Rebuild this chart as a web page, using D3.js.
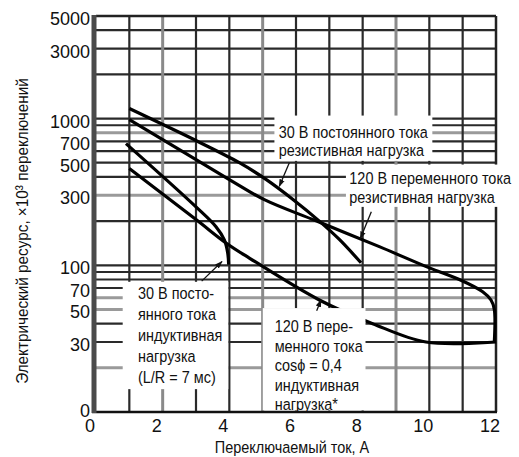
<!DOCTYPE html>
<html>
<head>
<meta charset="utf-8">
<script src="https://cdn.jsdelivr.net/npm/d3@7"></script>
<style>
  body { margin: 0; background: #fff; }
  svg text { fill: #111; }
  .tick-label { font-family: "Liberation Sans", Arial, sans-serif; font-size: 18px; }
  .cond { font-family: "Liberation Sans", Arial, sans-serif; font-size: 17px; }
</style>
</head>
<body>
<div id="chart"></div>
<script>
// axis ticks (bottom decade shown as "0" in the original)
const xTicks = [0, 2, 4, 6, 8, 10, 12];
const yTicks = [10, 30, 50, 70, 100, 300, 500, 700, 1000, 3000, 5000];
const yTickLabels = ["0", "30", "50", "70", "100", "300", "500", "700", "1000", "3000", "5000"];

// grid lines
const gridX = [1, 2, 3, 4, 5, 6, 7, 8, 9, 10, 11];
const gridY = [20, 30, 40, 50, 60, 70, 80, 90, 100, 200, 300, 400, 500, 600, 700, 800, 900, 1000, 2000, 3000, 4000];
const greyX = [2, 5, 9];
const greyY = [20, 50, 60, 300, 800];

// curves: current (A) and life (x10^3 operations)
const r30A = [1.0, 3.1, 4.3, 5.1, 5.9, 6.7, 7.3, 7.95];
const r30V = [1170, 690, 500, 385, 282, 200, 150, 104];
const r120A = [1.0, 4.0, 5.05, 6.6, 8.5, 10.0, 10.9, 11.6, 11.85, 11.95, 11.95];
const r120V = [985, 384, 280, 201, 134, 96, 80, 66, 58, 50, 30];
const i30A = [0.9, 3.0, 3.6, 3.85, 3.95, 3.98];
const i30V = [675, 250, 183, 149, 122, 101];
const i120A = [1.0, 3.0, 3.9, 4.6, 6.7, 8.3, 9.9, 12];
const i120V = [456, 205, 142, 112, 58, 40, 30, 30];

// annotations
const labelLines = [
    ["30 В постоянного тока", "резистивная нагрузка"],
    ["120 В переменного тока", "резистивная нагрузка"],
    ["30 В посто-", "янного тока", "индуктивная", "нагрузка", "(L/R = 7 мс)"],
    ["120 В пере-", "менного тока", "cosϕ = 0,4", "индуктивная", "нагрузка*"]
];
const labelA = [5.48, 7.6, 1.26, 5.36];
const labelV = [741, 360, 59, 35];
const pointerFromA = [5.8, 8.26, 3.17, 6.62];
const pointerFromV = [500, 232, 78, 49];
const pointerToA = [5.5, 7.93, 3.78, 6.75];
const pointerToV = [345, 152, 106, 58];

const width = 519, height = 457;
const margin = {top: 16, right: 22, bottom: 45, left: 96};
const squeeze = 0.85; // condensed look for the annotation font

const svg = d3.select("#chart").append("svg")
    .attr("width", width).attr("height", height);

svg.append("defs").append("marker")
    .attr("id", "arrow")
    .attr("viewBox", "0 0 10 10")
    .attr("refX", 9).attr("refY", 5)
    .attr("markerWidth", 6).attr("markerHeight", 6)
    .attr("orient", "auto")
    .append("path").attr("d", "M0,1.5L10,5L0,8.5Z").attr("fill", "#111");

const x = d3.scaleLinear().domain([0, 12]).range([margin.left, width - margin.right - 1]);
const y = d3.scaleLog().domain([10, 5000]).range([height - margin.bottom, margin.top]);

// grid
svg.append("g").selectAll("line")
    .data(gridY).enter().append("line")
    .attr("x1", x(0)).attr("x2", x(12))
    .attr("y1", d => y(d)).attr("y2", d => y(d))
    .attr("stroke", d => greyY.includes(d) ? "#9a9a9a" : "#2a2a2a")
    .attr("stroke-width", d => greyY.includes(d) ? 3 : 2.2);

svg.append("g").selectAll("line")
    .data(gridX).enter().append("line")
    .attr("x1", d => x(d)).attr("x2", d => x(d))
    .attr("y1", y(10)).attr("y2", y(5000))
    .attr("stroke", d => greyX.includes(d) ? "#8a8a8a" : "#2a2a2a")
    .attr("stroke-width", d => greyX.includes(d) ? 3 : 2.2);

// top and right frame
svg.append("line").attr("x1", x(0)).attr("x2", x(12)).attr("y1", y(5000)).attr("y2", y(5000))
    .attr("stroke", "#222").attr("stroke-width", 2.5);
svg.append("line").attr("x1", x(12)).attr("x2", x(12)).attr("y1", y(5000)).attr("y2", y(10))
    .attr("stroke", "#222").attr("stroke-width", 2.5);

// curves
const line = d3.line()
    .x(d => x(d[0])).y(d => y(d[1]))
    .curve(d3.curveCatmullRom.alpha(0.5));

const curves = [
    d3.zip(r30A, r30V),
    d3.zip(r120A, r120V),
    d3.zip(i30A, i30V),
    d3.zip(i120A, i120V)
];
svg.append("g").selectAll("path")
    .data(curves).enter().append("path")
    .attr("d", line)
    .attr("fill", "none")
    .attr("stroke", "#000")
    .attr("stroke-width", 3.2)
    .attr("stroke-linejoin", "round");

// annotation labels with white backgrounds (pads: left, top, right, bottom)
const lineStep = [18, 19, 21, 19.5];
const pads = [[5, 7, 5, 2], [4, 4, 3, 1], [18, 2, 7, 3], [14, 9, 3, 0]];
labelLines.forEach((lines, i) => {
    const g = svg.append("g")
        .attr("transform", "translate(" + x(labelA[i]) + "," + y(labelV[i]) + ") scale(" + squeeze + ",1)");
    const bg = g.append("rect").attr("fill", "#fff");
    const t = g.append("text").attr("class", "cond");
    lines.forEach((s, j) => {
        t.append("tspan").attr("x", 0).attr("y", j * lineStep[i]).text(s);
    });
    const b = t.node().getBBox();
    const p = pads[i];
    const bottom = Math.min(b.y + b.height + p[3], y(10) - y(labelV[i]) - 1.5);
    bg.attr("x", b.x - p[0]).attr("y", b.y - p[1])
        .attr("width", b.width + p[0] + p[2]).attr("height", bottom - b.y + p[1]);
});

// pointers
svg.append("g").selectAll("line")
    .data(d3.range(pointerFromA.length)).enter().append("line")
    .attr("x1", i => x(pointerFromA[i])).attr("y1", i => y(pointerFromV[i]))
    .attr("x2", i => x(pointerToA[i])).attr("y2", i => y(pointerToV[i]))
    .attr("stroke", "#111").attr("stroke-width", 1.3)
    .attr("marker-end", "url(#arrow)");

// bottom axis line and thick left bar on top
svg.append("line").attr("x1", x(0) - 4).attr("x2", x(12) + 1).attr("y1", y(10)).attr("y2", y(10))
    .attr("stroke", "#111").attr("stroke-width", 2.5);
svg.append("line").attr("x1", x(0) - 2).attr("x2", x(0) - 2).attr("y1", y(5000) - 1).attr("y2", y(10) + 1)
    .attr("stroke", "#4a4a4a").attr("stroke-width", 5);

// tick labels
svg.append("g").selectAll("text")
    .data(yTicks).enter().append("text")
    .attr("class", "tick-label")
    .attr("x", x(0) - 6).attr("y", d => y(d) + (d === 10 ? 5 : 9))
    .attr("text-anchor", "end")
    .text((d, i) => yTickLabels[i]);

svg.append("g").selectAll("text")
    .data(xTicks).enter().append("text")
    .attr("class", "tick-label")
    .attr("x", d => x(d) - 6).attr("y", y(10) + 20)
    .attr("text-anchor", "middle")
    .text(d => d);

// axis titles
svg.append("text").attr("class", "cond")
    .attr("transform", "translate(" + (x(6) - 4) + "," + (height - 4) + ") scale(" + squeeze + ",1)")
    .attr("text-anchor", "middle")
    .text("Переключаемый ток, А");

svg.append("text").attr("class", "cond")
    .attr("transform", "translate(28,231) rotate(-90) scale(0.9,1)")
    .attr("text-anchor", "middle")
    .text("Электрический ресурс, ×10³ переключений");
</script>
</body>
</html>
